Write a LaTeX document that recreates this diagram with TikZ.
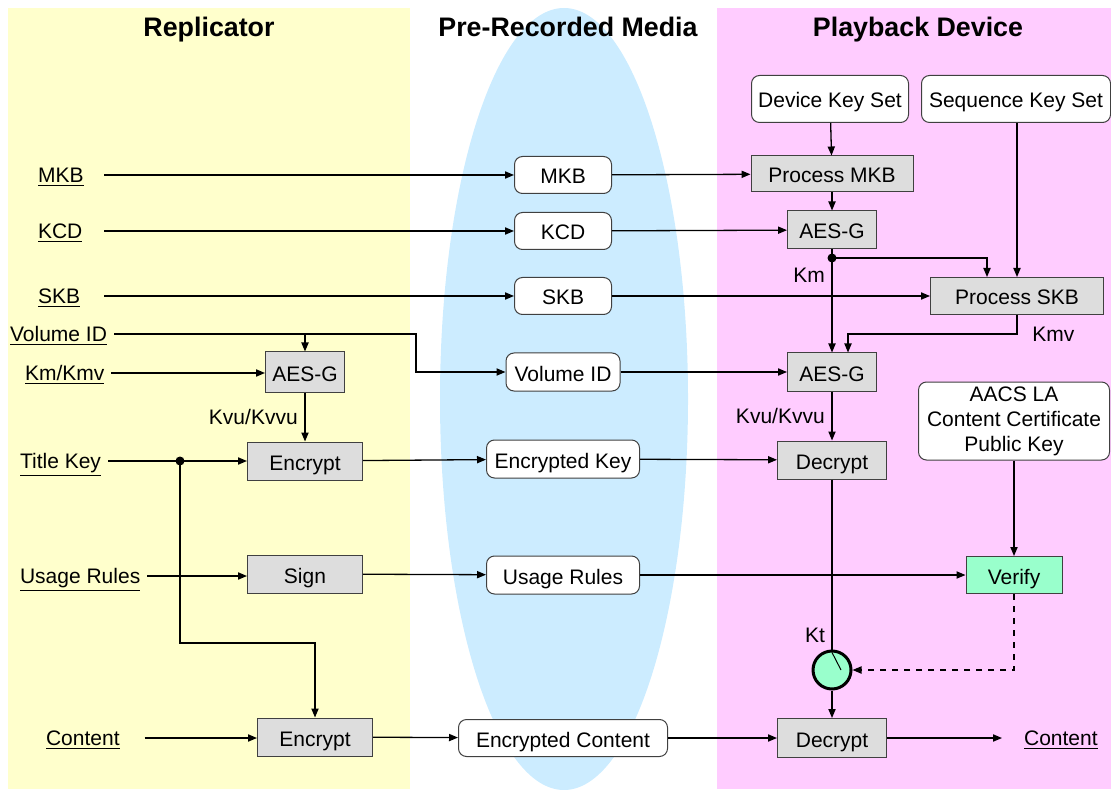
\documentclass[tikz,border=0pt]{standalone}
\usepackage{fontspec}
\setmainfont{Liberation Sans}
\usetikzlibrary{arrows.meta,calc}

\definecolor{replyellow}{HTML}{FFFFCC}
\definecolor{playpink}{HTML}{FFCCFF}
\definecolor{mediablue}{HTML}{CCECFF}
\definecolor{okgreen}{HTML}{99FFCC}
\definecolor{boxgray}{HTML}{DDDDDD}

\tikzset{
	txt/.style={font=\fontsize{10.5}{12.5}\selectfont},
	hdr/.style={font=\fontsize{13.4}{16}\selectfont\bfseries, anchor=base},
	inlbl/.style={txt, anchor=west, text height=9pt, text depth=1.5pt},
	procbox/.style={txt, draw=black!75, line width=0.5pt, fill=boxgray, minimum height=19pt, inner sep=0pt, text height=10pt, text depth=1pt},
	mediabox/.style={txt, draw=black!75, line width=0.5pt, fill=white, rounded corners=4pt, minimum height=18.5pt, inner sep=0pt, text height=10pt, text depth=1pt},
	arr/.style={line width=0.65pt, -{Triangle[length=4.5pt,width=3.6pt]}},
	wire/.style={line width=0.65pt},
	jdot/.style={circle, fill=black, inner sep=0pt, minimum size=4.5pt},
}

\begin{document}
\begin{tikzpicture}[x=0.5pt,y=-0.5pt]

				\useasboundingbox (0,0) rectangle (1111,790);
				\fill[replyellow] (8,8) rectangle (410,789);
				\fill[playpink] (717,8) rectangle (1111,789);
				\fill[mediablue] (564,399) ellipse [x radius=62pt, y radius=195.5pt];

				\node[hdr] (hdrrep) at (209,37) {Replicator};
				\node[hdr] (hdrmedia) at (568,37) {Pre-Recorded Media};
				\node[hdr] (hdrplay) at (918,37) {Playback Device};

				% replicator side
				\node[inlbl] (inmkb) at (31,175) {\underline{MKB}};
				\node[inlbl] (inkcd) at (31,231) {\underline{KCD}};
				\node[inlbl] (inskb) at (31,296) {\underline{SKB}};
				\node[inlbl] (invol) at (3,334) {\underline{Volume ID}};
				\node[inlbl] (inkm) at (18,373) {\underline{Km/Kmv}};
				\node[inlbl] (intk) at (13,461) {\underline{Title Key}};
				\node[inlbl] (inrules) at (13,576) {\underline{Usage Rules}};
				\node[inlbl] (incont) at (39,738) {\underline{Content}};
				\coordinate (lx) at (104,0);
				\coordinate (tksplit) at (180,461);

				\node[procbox, minimum width=39.5pt, minimum height=20pt] (raes) at (305,372) {AES-G};
				\node[procbox, minimum width=57.5pt] (renc) at (305,461) {Encrypt};
				\node[procbox, minimum width=57.5pt] (rsign) at (305,574) {Sign};
				\node[procbox, minimum width=57.5pt] (renccont) at (315,737) {Encrypt};

				% media
				\node[mediabox, minimum width=48.5pt] (mmkb) at (563,175) {MKB};
				\node[mediabox, minimum width=48.5pt] (mkcd) at (563,231) {KCD};
				\node[mediabox, minimum width=48.5pt] (mskb) at (563,296) {SKB};
				\node[mediabox, minimum width=57pt, minimum height=19pt] (mvol) at (563,372) {Volume ID};
				\node[mediabox, minimum width=76.5pt, minimum height=19pt] (mkey) at (563,459) {Encrypted Key};
				\node[mediabox, minimum width=76.5pt, minimum height=19pt] (mrules) at (563,575) {Usage Rules};
				\node[mediabox, minimum width=104.5pt] (mcont) at (563,738) {Encrypted Content};

				% playback side
				\node[mediabox, minimum width=78.5pt, minimum height=23.5pt] (pdev) at (830,99) {Device Key Set};
				\node[mediabox, minimum width=94.5pt, minimum height=23.5pt] (pseq) at (1016,99) {Sequence Key Set};
				\node[procbox, minimum width=81pt, minimum height=18pt] (pmkb) at (832,174) {Process MKB};
				\node[procbox, minimum width=44.5pt] (paesa) at (832,230) {AES-G};
				\node[procbox, minimum width=86.5pt, minimum height=18.5pt] (pskb) at (1017,296) {Process SKB};
				\node[procbox, minimum width=44.5pt] (paesb) at (832,372) {AES-G};
				\node[procbox, minimum width=54.5pt] (pdeca) at (832,460) {Decrypt};
				\node[mediabox, text height={}, text depth={}, minimum width=95.5pt, minimum height=39pt, align=center] (pla) at (1014,421) {AACS LA\\Content Certificate\\Public Key};
				\node[procbox, minimum width=48pt, minimum height=18.5pt, fill=okgreen] (pver) at (1014,575) {Verify};
				\node[circle, draw=black, line width=1.5pt, fill=okgreen, minimum size=19pt, inner sep=0pt] (psw) at (832,670) {};
				\node[procbox, minimum width=54.5pt, minimum height=19.5pt] (pdecb) at (832,738) {Decrypt};
				\node[inlbl] (outcont) at (1017,738) {\underline{Content}};
				\coordinate (kmdot) at (832,258);

				% replicator wiring
				\draw[arr] (inmkb -| lx) -- (mmkb);
				\draw[arr] (inkcd -| lx) -- (mkcd);
				\draw[arr] (inskb -| lx) -- (mskb);
				\draw[arr] (invol.east) -- ++(302,0) |- (mvol);
				\draw[arr] (invol.east -| raes) -- (raes);
				\draw[arr] (inkm.east) -- (inkm.east -| raes.west);
				\draw[arr] (raes) -- node[txt, left] {Kvu/Kvvu} (renc);
				\draw[arr] (intk.east) -- (intk.east -| renc.west);
				\node[jdot] at (tksplit) {};
				\draw[arr] (tksplit) -- ++(0,182) -| (renccont);
				\draw[arr] (inrules.east) -- (inrules.east -| rsign.west);
				\draw[arr] ([xshift=9pt]incont.east) -- (incont.east -| renccont.west);

				\draw[arr] (renc) -- (mkey);
				\draw[arr] (rsign) -- (mrules);
				\draw[arr] (renccont) -- (mcont);

				% playback wiring
				\draw[arr] (mmkb) -- (pmkb);
				\draw[arr] (mkcd) -- (paesa);
				\draw[arr] (mskb) -- (pskb);
				\draw[arr] (mvol) -- (paesb);
				\draw[arr] (mkey) -- (pdeca);
				\draw[arr] (mrules) -- (pver);
				\draw[arr] (mcont) -- (pdecb);

				\draw[arr] (pdev) -- (pmkb);
				\draw[arr] (pmkb) -- (paesa);
				\draw[arr] (paesa) -- (paesb);
				\node[jdot] at (kmdot) {};
				\node[txt, anchor=east] (kmlbl) at ([yshift=-8.5pt]kmdot) {Km};
				\draw[arr] (kmdot) -| ([xshift=-15pt]pskb.north);
				\draw[arr] (pseq.south -| pskb) -- (pskb);
				\draw[arr] (pskb.south) -- ++(0,19) node[txt, right, xshift=4pt] {Kmv} -| ([xshift=8pt]paesb.north);
				\draw[arr] (paesb) -- node[txt, left] {Kvu/Kvvu} (pdeca);
				\draw[wire] (pdeca) -- (psw);
				\node[txt, anchor=south east] (ktlbl) at (psw.north) {Kt};
				\draw[line width=0.5pt] ([yshift=-1.5pt]psw.north) -- ([xshift=4.5pt]psw.center);
				\draw[arr] (pla) -- (pver);
				\draw[arr, dashed] (pver.south) |- (psw.east);
				\draw[arr] (psw) -- (pdecb);
				\draw[arr] (pdecb) -- ([xshift=-7.5pt]outcont.west |- pdecb);

			\end{tikzpicture}
\end{document}
